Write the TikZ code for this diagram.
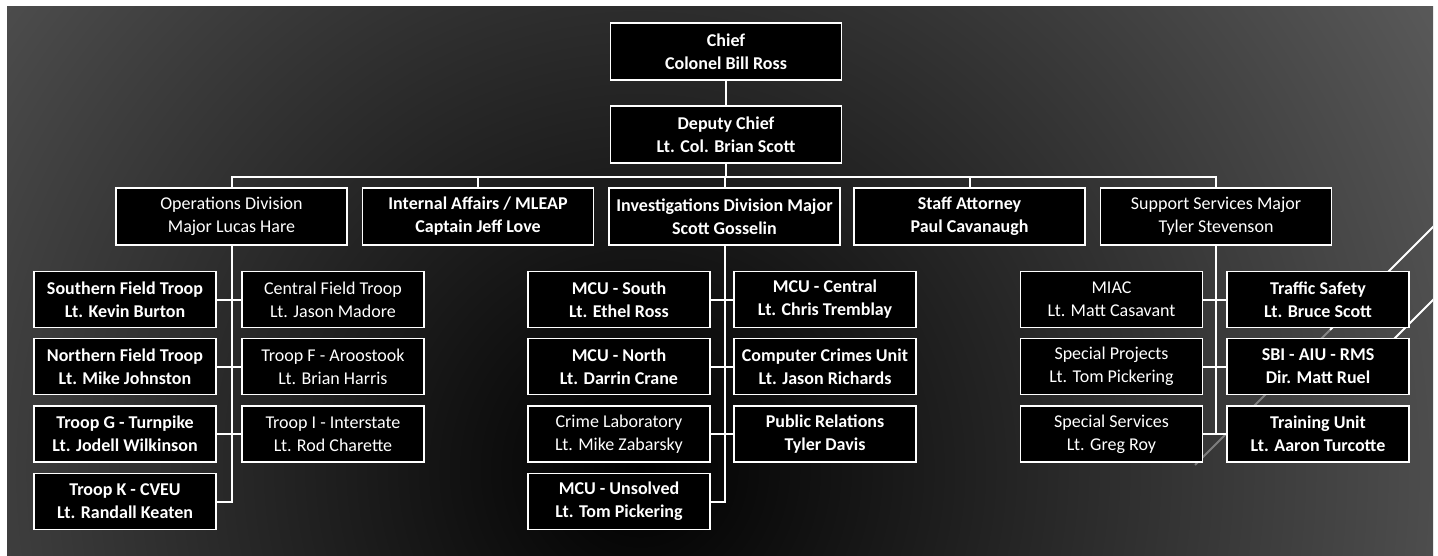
\documentclass[tikz,border=0pt]{standalone}
\usepackage{fontspec}
\setmainfont{Carlito}
\begin{document}
\begin{tikzpicture}[x=1pt,y=-1pt,
  box/.style={draw=white, line width=1.6pt, fill=black, text=white, align=center, inner sep=0pt,
    font=\fontsize{18}{23}\selectfont\bfseries},
  topbox/.style={box, minimum width=231pt, minimum height=57pt},
  unit/.style={box, minimum width=182pt, minimum height=56pt},
  light/.style={font=\fontsize{18}{23}\selectfont},
  link/.style={draw=white, line width=2pt},
  deco/.style={draw=white, line width=2pt}
]
\useasboundingbox (0,0) rectangle (1438,556);
\fill[white] (0,0) rectangle (1438,556);
\begin{scope}
  \clip (7,7) rectangle (1433,556);
  \shade[inner color=black, outer color=black!62!white] (640,470) circle (1000);
  \draw[deco, opacity=0.35] (1195,465) -- (1330,330);
  \draw[deco] (1330,330) -- (1436,224);
  \draw[deco] (1372,361) -- (1436,297);
\end{scope}

% top levels
\node[topbox] (chief) at (726,51.5) {Chief\\Colonel Bill Ross};
\node[topbox] (deputy) at (726,134.5) {Deputy Chief\\Lt. Col. Brian Scott};
\node[topbox,light] (ops) at (231.5,216.5) {Operations Division\\Major Lucas Hare};
\node[topbox] (ia) at (478,216.5) {Internal Affairs / MLEAP\\Captain Jeff Love};
\node[topbox] (inv) at (724.5,216.5) {Investigations Division Major\\Scott Gosselin};
\node[topbox] (staff) at (969.5,216.5) {Staff Attorney\\Paul Cavanaugh};
\node[topbox,light] (sup) at (1216,216.5) {Support Services Major\\Tyler Stevenson};

% operations units
\node[unit] (o1) at (125,299.5) {Southern Field Troop\\Lt. Kevin Burton};
\node[unit,light] (o2) at (333,299.5) {Central Field Troop\\Lt. Jason Madore};
\node[unit] (o3) at (125,366.5) {Northern Field Troop\\Lt. Mike Johnston};
\node[unit,light] (o4) at (333,366.5) {Troop F - Aroostook\\Lt. Brian Harris};
\node[unit] (o5) at (125,434) {Troop G - Turnpike\\Lt. Jodell Wilkinson};
\node[unit,light] (o6) at (333,434) {Troop I - Interstate\\Lt. Rod Charette};
\node[unit] (o7) at (125,501.5) {Troop K - CVEU\\Lt. Randall Keaten};

% investigations units
\node[unit] (i1) at (619,299.5) {MCU - South\\Lt. Ethel Ross};
\node[unit] (i2) at (825,299.5) {MCU - Central\\Lt. Chris Tremblay};
\node[unit] (i3) at (619,366.5) {MCU - North\\Lt. Darrin Crane};
\node[unit] (i4) at (825,366.5) {Computer Crimes Unit\\Lt. Jason Richards};
\node[unit,light] (i5) at (619,434) {Crime Laboratory\\Lt. Mike Zabarsky};
\node[unit] (i6) at (825,434) {Public Relations\\Tyler Davis};
\node[unit] (i7) at (619,501.5) {MCU - Unsolved\\Lt. Tom Pickering};

% support units
\node[unit,light] (s1) at (1111.5,299.5) {MIAC\\Lt. Matt Casavant};
\node[unit] (s2) at (1318,299.5) {Traffic Safety\\Lt. Bruce Scott};
\node[unit,light] (s3) at (1111.5,366.5) {Special Projects\\Lt. Tom Pickering};
\node[unit] (s4) at (1318,366.5) {SBI - AIU - RMS\\Dir. Matt Ruel};
\node[unit,light] (s5) at (1111.5,434) {Special Services\\Lt. Greg Roy};
\node[unit] (s6) at (1318,434) {Training Unit\\Lt. Aaron Turcotte};

% connectors
\coordinate (bus) at (726,177);
\draw[link] (chief.south) -- (deputy.north);
\draw[link] (deputy.south) -- (deputy.south |- bus);
\draw[link] (ops.north) -- (ops.north |- bus) -- (sup.north |- bus) -- (sup.north);
\draw[link] (ia.north) -- (ia.north |- bus);
\draw[link] (inv.north) -- (inv.north |- bus);
\draw[link] (staff.north) -- (staff.north |- bus);

\draw[link] (ops.south) -- (ops.south |- o7.east) -- (o7.east);
\draw[link] (o1.east) -- (o2.west);
\draw[link] (o3.east) -- (o4.west);
\draw[link] (o5.east) -- (o6.west);

\draw[link] (inv.south) -- (inv.south |- i7.east) -- (i7.east);
\draw[link] (i1.east) -- (i2.west);
\draw[link] (i3.east) -- (i4.west);
\draw[link] (i5.east) -- (i6.west);

\draw[link] (sup.south) -- (sup.south |- s5.east);
\draw[link] (s1.east) -- (s2.west);
\draw[link] (s3.east) -- (s4.west);
\draw[link] (s5.east) -- (s6.west);
\end{tikzpicture}
\end{document}
